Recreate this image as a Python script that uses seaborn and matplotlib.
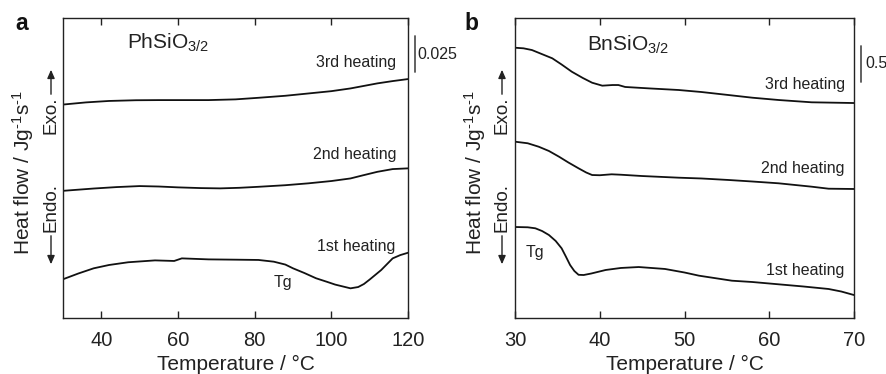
import matplotlib
matplotlib.use("Agg")
import matplotlib.pyplot as plt
import seaborn as sns
import pandas as pd
from matplotlib.transforms import blended_transform_factory

sns.set_theme(style="white")
plt.rcParams['font.family'] = ['Liberation Sans', 'DejaVu Sans']
plt.rcParams['mathtext.fontset'] = 'custom'
plt.rcParams['mathtext.rm'] = 'Liberation Sans'
plt.rcParams['mathtext.it'] = 'Liberation Sans'

# ---------------- Panel a: PhSiO3/2 (heat flow, W/g, offset curves) ----------
a_T3 = [30, 36, 42, 49, 55, 62, 68, 75, 81, 88, 94, 100, 105, 109, 112, 116, 120]
a_H3 = [0.1482, 0.1497, 0.1507, 0.1512, 0.1513, 0.1513, 0.1513, 0.1518, 0.1529, 0.1543,
        0.1559, 0.1575, 0.1594, 0.1614, 0.1629, 0.1645, 0.1659]

a_T2 = [30, 38, 44, 50, 55, 60, 66, 71, 76, 81, 88, 94, 100, 105, 108, 112, 116, 120]
a_H2 = [0.0883, 0.0899, 0.0909, 0.0916, 0.0913, 0.0907, 0.0902, 0.0900, 0.0904, 0.0911,
        0.0922, 0.0935, 0.0951, 0.0969, 0.0989, 0.1015, 0.1034, 0.1039]

a_T1 = [30, 34, 38, 42, 47, 54, 59, 61, 62, 68, 75, 81, 85, 88, 90, 93, 96, 99, 101, 103,
        105, 107, 108.5, 110, 113, 116, 118, 120]
a_H1 = [0.0269, 0.0309, 0.0345, 0.0368, 0.0387, 0.0400, 0.0396, 0.0414, 0.0413, 0.0407,
        0.0405, 0.0403, 0.0391, 0.0371, 0.0345, 0.0312, 0.0276, 0.0250, 0.0232, 0.0219,
        0.0206, 0.0215, 0.0236, 0.0267, 0.0333, 0.0414, 0.0437, 0.0453]

# ---------------- Panel b: BnSiO3/2 ----------------
b_T3 = [30, 31, 32, 33, 34.4, 35.5, 36.7, 38, 39.1, 40.3, 41.5, 42.2, 43, 46, 49.3, 52,
        55.2, 58, 61.1, 65, 70]
b_H3 = [3.754, 3.746, 3.722, 3.674, 3.607, 3.521, 3.421, 3.334, 3.268, 3.227, 3.236, 3.236,
        3.209, 3.188, 3.167, 3.139, 3.097, 3.060, 3.028, 2.996, 2.986]

b_T2 = [30, 31.5, 32.8, 34, 35.2, 36.3, 37.5, 38.4, 39.1, 40, 41.4, 42.5, 45, 49.3, 52,
        55.2, 58, 61.1, 65, 67, 70]
b_H2 = [2.449, 2.427, 2.379, 2.320, 2.240, 2.160, 2.079, 2.021, 1.986, 1.983, 1.996, 1.990,
        1.972, 1.949, 1.938, 1.917, 1.896, 1.871, 1.824, 1.796, 1.792]

b_T1 = [30, 31.5, 32.4, 33.2, 34, 34.8, 35.5, 36, 36.5, 37, 37.5, 38.1, 39, 40.7, 42.5,
        44.6, 47.7, 50, 51.7, 55.6, 58, 61.1, 64, 67, 68.5, 70]
b_H1 = [1.264, 1.260, 1.246, 1.208, 1.153, 1.070, 0.968, 0.854, 0.736, 0.653, 0.600, 0.597,
        0.618, 0.667, 0.695, 0.708, 0.681, 0.632, 0.588, 0.518, 0.500, 0.468, 0.438, 0.403,
        0.368, 0.319]

series_labels = ["1st heating", "2nd heating", "3rd heating"]
a_xticks = [40, 60, 80, 100, 120]
b_xticks = [30, 40, 50, 60, 70]

fig = plt.figure(figsize=(8.87, 3.74), dpi=100)
W, H = 887, 374


def px_axes(l, r, t, b):
    return fig.add_axes([l / W, 1 - b / H, (r - l) / W, (b - t) / H])


axA = px_axes(63, 408, 18, 318)
axB = px_axes(515, 854, 18, 318)


def draw(ax, curves, xlim, ylim, xticks):
    for T, Hf in curves:
        df = pd.DataFrame({"T": T, "H": Hf})
        sns.lineplot(data=df, x="T", y="H", ax=ax, color="#111111", linewidth=1.3,
                     estimator=None, sort=False)
    ax.set_xlim(*xlim)
    ax.set_ylim(*ylim)
    ax.set_xticks(xticks)
    ax.set_yticks([])
    ax.tick_params(axis="x", direction="in", top=True, bottom=True, length=5, width=1.0,
                   color="#222222", labelsize=14.5, pad=9, labelcolor="#222222")
    for s in ax.spines.values():
        s.set_linewidth(1.0)
        s.set_color("#222222")
        s.set_visible(True)
    ax.set_xlabel("Temperature / °C", fontsize=15, color="#222222", labelpad=4)
    ax.set_ylabel("")


draw(axA, [(a_T1, a_H1), (a_T2, a_H2), (a_T3, a_H3)], (30, 120), (0, 0.2083), a_xticks)
draw(axB, [(b_T1, b_H1), (b_T2, b_H2), (b_T3, b_H3)], (30, 70), (0, 4.167), b_xticks)


def fx(px):
    return px / W


def fy(py):
    return 1 - py / H


tc = "#222222"
# panel letters
fig.text(fx(15), fy(23), "a", fontsize=16.5, fontweight="bold", ha="left", va="center", color="#111111")
fig.text(fx(464), fy(23), "b", fontsize=16.5, fontweight="bold", ha="left", va="center", color="#111111")

# sample names
fig.text(fx(127), fy(43), r"PhSiO$_{3/2}$", fontsize=15, ha="left", va="center", color=tc)
fig.text(fx(587), fy(45), r"BnSiO$_{3/2}$", fontsize=15, ha="left", va="center", color=tc)

# heating labels
for x, y, s in [(396, 62, "3rd heating"), (397, 155, "2nd heating"), (395, 247, "1st heating"),
                (845, 85, "3rd heating"), (845, 169, "2nd heating"), (844, 270, "1st heating")]:
    fig.text(fx(x), fy(y), s, fontsize=11.5, ha="right", va="center", color=tc)
fig.text(fx(283), fy(283), "Tg", fontsize=11.5, ha="center", va="center", color=tc)
fig.text(fx(535), fy(252), "Tg", fontsize=11.5, ha="center", va="center", color=tc)

# scale bars
trA = blended_transform_factory(axA.transAxes, axA.transData)
axA.plot([1.02, 1.02], [0.1708, 0.1958], transform=trA, color="#555555", lw=1.3, clip_on=False)
axA.text(1.027, 0.1833, "0.025", transform=trA, fontsize=11.5, ha="left", va="center", color=tc)
trB = blended_transform_factory(axB.transAxes, axB.transData)
axB.plot([1.02, 1.02], [3.28, 3.78], transform=trB, color="#555555", lw=1.3, clip_on=False)
axB.text(1.035, 3.53, "0.5", transform=trB, fontsize=11.5, ha="left", va="center", color=tc)

# y labels with Exo/Endo arrows
for hx, ex in [(23, 51), (475, 502)]:
    fig.text(fx(hx), fy(172), r"Heat flow / Jg$^{\text{-}1}$s$^{\text{-}1}$", fontsize=15,
             rotation=90, ha="center", va="center", color=tc)
    fig.text(fx(ex), fy(115), "Exo.", fontsize=13.5, rotation=90, ha="center", va="center", color=tc)
    fig.text(fx(ex), fy(207), "Endo.", fontsize=13.5, rotation=90, ha="center", va="center", color=tc)
    fig.add_artist(matplotlib.patches.FancyArrowPatch(
        (fx(ex), fy(97)), (fx(ex), fy(67)), transform=fig.transFigure,
        arrowstyle="-|>,head_length=5,head_width=2.2", color=tc, lw=1.0, mutation_scale=1))
    fig.add_artist(matplotlib.patches.FancyArrowPatch(
        (fx(ex), fy(233)), (fx(ex), fy(267)), transform=fig.transFigure,
        arrowstyle="-|>,head_length=5,head_width=2.2", color=tc, lw=1.0, mutation_scale=1))

fig.savefig("out.png", dpi=100)
